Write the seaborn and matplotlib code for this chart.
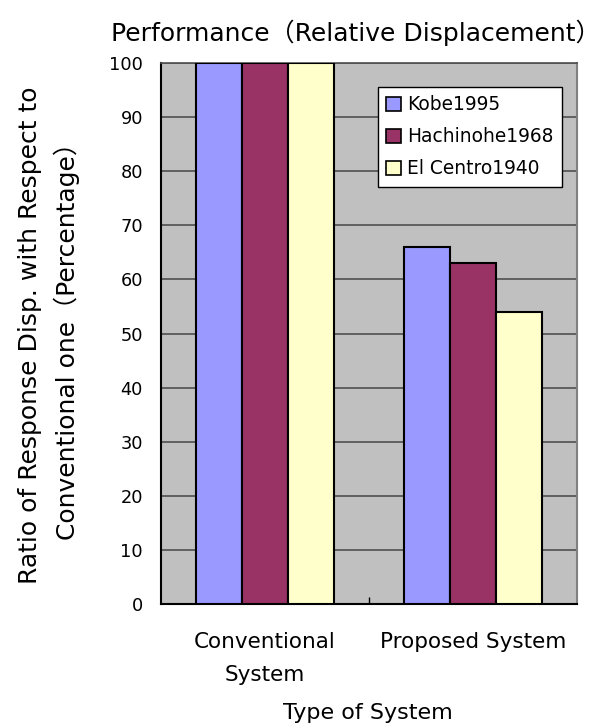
import matplotlib
matplotlib.use("Agg")
import matplotlib.pyplot as plt
from matplotlib.ticker import FixedLocator
import seaborn as sns
import pandas as pd

systems = ["Conventional\nSystem", "Proposed System"]
records = ["Kobe1995", "Hachinohe1968", "El Centro1940"]
kobe = [100, 66]
hachinohe = [100, 63]
elcentro = [100, 54]
colors = ["#9999FF", "#993366", "#FFFFCC"]

df = pd.DataFrame({
    "system": systems * 3,
    "record": [r for r in records for _ in systems],
    "ratio": kobe + hachinohe + elcentro,
})

sns.set_theme(style="white")
plt.rcParams["font.family"] = ["DejaVu Sans", "Noto Sans CJK JP"]
plt.rcParams["text.color"] = "black"
plt.rcParams["xtick.color"] = "black"
plt.rcParams["ytick.color"] = "black"
plt.rcParams["axes.labelcolor"] = "black"

W, H = 612, 728
fig = plt.figure(figsize=(W / 100, H / 100), dpi=100)
ax = fig.add_axes([161 / W, 1 - 604 / H, (577 - 161) / W, (604 - 63) / H])
ax.set_facecolor("#C0C0C0")

sns.barplot(data=df, x="system", y="ratio", hue="record", hue_order=records,
            palette=dict(zip(records, colors)), saturation=1, width=0.665,
            edgecolor="black", linewidth=1.5, ax=ax, zorder=3)

ax.set_ylim(0, 100)
ax.set_xlim(-0.5, 1.5)
ax.set_yticks(range(0, 101, 10))
ax.yaxis.grid(True, color="#505050", linewidth=1.2, zorder=0)
ax.set_axisbelow(True)

for side in ["left", "bottom"]:
    ax.spines[side].set_color("black")
    ax.spines[side].set_linewidth(1.5)
ax.spines["top"].set_color("#505050")
ax.spines["top"].set_linewidth(1.2)
ax.spines["right"].set_color("#808080")
ax.spines["right"].set_linewidth(1.5)

ax.tick_params(axis="y", which="major", length=0, labelsize=12.8, pad=13,
               labelcolor="black")
ax.tick_params(axis="x", which="major", length=0, labelsize=15.5, pad=20,
               labelcolor="black")
for lbl in ax.get_xticklabels():
    lbl.set_linespacing(1.8)
ax.xaxis.set_minor_locator(FixedLocator([0.5]))
ax.tick_params(axis="x", which="minor", direction="in", length=5, width=1,
               color="black", bottom=True)

ax.set_xlabel("")
ax.set_ylabel("")
fig.text(368 / W, 1 - 713 / H, "Type of System", fontsize=16,
         ha="center", va="center", color="black")
fig.text(49 / W, 1 - 335 / H,
         "Ratio of Response Disp. with Respect to\nConventional one（Percentage）",
         fontsize=18, rotation=90, ha="center", va="center",
         multialignment="center", linespacing=1.55, color="black")
fig.text(356 / W, 1 - 33 / H, "Performance（Relative Displacement）",
         fontsize=18, ha="center", va="center", color="black")

handles, labels = ax.get_legend_handles_labels()
leg = ax.legend(handles, labels, loc="upper left",
                bbox_to_anchor=(378 / W, 1 - 87 / H), bbox_transform=fig.transFigure,
                frameon=True, fancybox=False, edgecolor="black", facecolor="white",
                framealpha=1, fontsize=13.4, handlelength=0.8, handleheight=0.8,
                handletextpad=0.32, labelspacing=0.7, borderpad=0.45,
                borderaxespad=0, labelcolor="black")
leg.get_frame().set_linewidth(1.0)
for h in leg.legend_handles:
    h.set_edgecolor("black")
    h.set_linewidth(1.2)

fig.savefig("out.png", dpi=100)
